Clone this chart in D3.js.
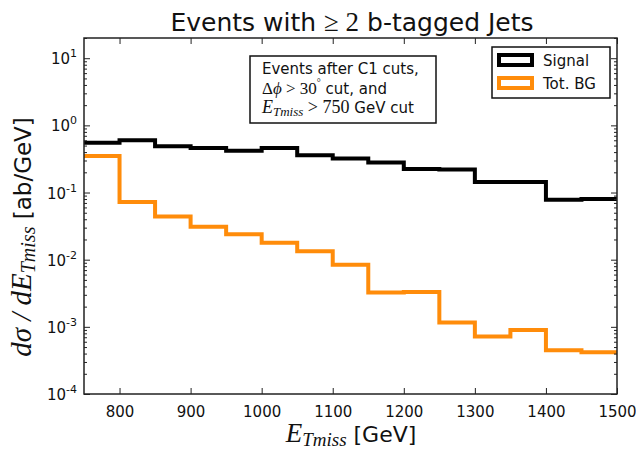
<!DOCTYPE html>
<html>
<head>
<meta charset="utf-8">
<script src="https://cdn.jsdelivr.net/npm/d3@7"></script>
<style>
  body { margin: 0; background: #fff; }
  text { font-family: "DejaVu Sans", sans-serif; fill: #111; }
  .math { font-family: "Liberation Serif", "DejaVu Serif", serif; font-style: italic; }
</style>
</head>
<body>
<div id="chart"></div>
<script>
// histogram bins (lower edges, GeV), 50 GeV wide
const binLow = [750, 800, 850, 900, 950, 1000, 1050, 1100, 1150, 1200, 1250, 1300, 1350, 1400, 1450];
const binHigh = 1500;
const signal = [0.55, 0.60, 0.49, 0.46, 0.42, 0.46, 0.36, 0.32, 0.28, 0.225, 0.22, 0.144, 0.144, 0.078, 0.080];
const totBG = [0.35, 0.072, 0.044, 0.031, 0.024, 0.0178, 0.0133, 0.0084, 0.00325, 0.0033, 0.00116, 0.00072, 0.0009, 0.00045, 0.00042];
const xTicks = [800, 900, 1000, 1100, 1200, 1300, 1400, 1500];
const yExps = [-4, -3, -2, -1, 0, 1];

const width = 636, height = 450;
const margin = {top: 38, right: 19, bottom: 56, left: 84};
const iw = width - margin.left - margin.right;
const ih = height - margin.top - margin.bottom;

const svg = d3.select("#chart").append("svg")
  .attr("width", width).attr("height", height);

const x = d3.scaleLinear().domain([750, 1500]).range([0, iw]);
const y = d3.scaleLog().domain([1e-4, 20]).range([ih, 0]);

const g = svg.append("g").attr("transform", `translate(${margin.left},${margin.top})`);

g.append("clipPath").attr("id", "clip")
  .append("rect").attr("width", iw).attr("height", ih);

// step lines
const line = d3.line()
  .x(d => x(d[0])).y(d => y(d[1]))
  .curve(d3.curveStepAfter);

function steps(vals) {
  const pts = binLow.map((b, i) => [b, vals[i]]);
  pts.push([binHigh, vals[vals.length - 1]]);
  return pts;
}

g.append("path").datum(steps(totBG))
  .attr("d", line).attr("fill", "none")
  .attr("stroke", "#ff8c0a").attr("stroke-width", 4)
  .attr("clip-path", "url(#clip)");

g.append("path").datum(steps(signal))
  .attr("d", line).attr("fill", "none")
  .attr("stroke", "#000").attr("stroke-width", 4)
  .attr("clip-path", "url(#clip)");

// axes, ticks inward
const minor = [];
yExps.forEach(e => { for (let k = 2; k <= 9; k++) { const v = k * Math.pow(10, e); if (v <= 20) minor.push(v); } });
const major = yExps.map(e => Math.pow(10, e));

g.append("g").attr("transform", `translate(0,${ih})`)
  .call(d3.axisBottom(x).tickValues(xTicks).tickFormat(d3.format("d"))
    .tickSizeInner(-6).tickSizeOuter(0).tickPadding(12))
  .call(a => a.select(".domain").remove())
  .call(a => a.selectAll("text").attr("font-size", 15).attr("font-family", "DejaVu Sans").attr("fill", "#111"));

g.append("g")
  .call(d3.axisTop(x).tickValues(xTicks).tickSizeInner(-6).tickSizeOuter(0).tickFormat(""))
  .call(a => a.select(".domain").remove());

g.append("g")
  .call(d3.axisLeft(y).tickValues(major).tickSizeInner(-6).tickSizeOuter(0).tickFormat(""))
  .call(a => a.select(".domain").remove());
g.append("g")
  .call(d3.axisLeft(y).tickValues(minor).tickSizeInner(-3).tickSizeOuter(0).tickFormat(""))
  .call(a => a.select(".domain").remove());
g.append("g").attr("transform", `translate(${iw},0)`)
  .call(d3.axisRight(y).tickValues(major).tickSizeInner(-6).tickSizeOuter(0).tickFormat(""))
  .call(a => a.select(".domain").remove());
g.append("g").attr("transform", `translate(${iw},0)`)
  .call(d3.axisRight(y).tickValues(minor).tickSizeInner(-3).tickSizeOuter(0).tickFormat(""))
  .call(a => a.select(".domain").remove());
g.selectAll(".tick line").attr("stroke", "#222");

// y tick labels 10^n
const yl = g.selectAll(".ylab").data(yExps).enter().append("text")
  .attr("class", "ylab")
  .attr("x", -7).attr("y", d => y(Math.pow(10, d)) + 6)
  .attr("text-anchor", "end").attr("font-size", 15);
yl.append("tspan").text("10");
yl.append("tspan").attr("dy", -7).attr("font-size", 11).text(d => d);

// frame
g.append("rect").attr("width", iw).attr("height", ih)
  .attr("fill", "none").attr("stroke", "#222").attr("stroke-width", 1.5);

// title
const title = svg.append("text").attr("x", 352).attr("y", 31)
  .attr("text-anchor", "middle").attr("font-size", 25);
title.append("tspan").text("Events with ");
title.append("tspan").attr("font-family", "Liberation Serif, serif").attr("font-size", 27).text("\u2265 2");
title.append("tspan").text(" b-tagged Jets");

// x label
const xl = svg.append("text").attr("x", 351).attr("y", 442)
  .attr("text-anchor", "middle").attr("font-size", 22);
xl.append("tspan").attr("class", "math").attr("font-size", 27).text("E");
xl.append("tspan").attr("class", "math").attr("font-size", 19).attr("dy", 4).text("Tmiss");
xl.append("tspan").attr("dy", -4).text(" [GeV]");

// y label
const ylab = svg.append("text")
  .attr("transform", "translate(31,237) rotate(-90)")
  .attr("text-anchor", "middle").attr("font-size", 23);
ylab.append("tspan").attr("class", "math").attr("font-size", 29).text("d\u03c3 / dE");
ylab.append("tspan").attr("class", "math").attr("font-size", 20).attr("dy", 4).text("Tmiss");
ylab.append("tspan").attr("dy", -4).text(" [ab/GeV]");

// annotation box
svg.append("rect").attr("x", 250).attr("y", 56).attr("width", 186).attr("height", 67)
  .attr("fill", "#fff").attr("stroke", "#111").attr("stroke-width", 1.5);
const ann = svg.append("g").attr("font-size", 15);
ann.append("text").attr("x", 262).attr("y", 74).attr("font-size", 15).text("Events after C1 cuts,");
const a2 = ann.append("text").attr("x", 262).attr("y", 94).attr("font-size", 15);
a2.append("tspan").attr("font-family", "Liberation Serif, serif").attr("font-size", 17).text("\u0394");
a2.append("tspan").attr("class", "math").attr("font-size", 17).text("\u03d5");
a2.append("tspan").attr("font-family", "Liberation Serif, serif").attr("font-size", 17).text(" > 30");
a2.append("tspan").attr("font-size", 10).attr("dy", -8).attr("font-family", "Liberation Serif, serif").text("\u00b0");
a2.append("tspan").attr("dy", 8).text(" cut, and");
const a3 = ann.append("text").attr("x", 262).attr("y", 113).attr("font-size", 15);
a3.append("tspan").attr("class", "math").attr("font-size", 18).text("E");
a3.append("tspan").attr("class", "math").attr("font-size", 13).attr("dy", 3).text("Tmiss");
a3.append("tspan").attr("dy", -3).attr("font-family", "Liberation Serif, serif").attr("font-size", 18).text(" > 750");
a3.append("tspan").text(" GeV cut");

// legend
const legendItems = [
  {label: "Signal", color: "#000"},
  {label: "Tot. BG", color: "#ff8c0a"}
];
svg.append("rect").attr("x", 492).attr("y", 47).attr("width", 118).attr("height", 51)
  .attr("fill", "#fff").attr("stroke", "#111").attr("stroke-width", 1.5);
const lg = svg.selectAll(".leg").data(legendItems).enter().append("g")
  .attr("transform", (d, i) => `translate(499,${55 + i * 23})`);
lg.append("rect").attr("width", 33).attr("height", 10)
  .attr("fill", "#fff").attr("stroke", d => d.color).attr("stroke-width", 4);
lg.append("text").attr("x", 44).attr("y", 11).attr("font-size", 15).text(d => d.label);
</script>
</body>
</html>
